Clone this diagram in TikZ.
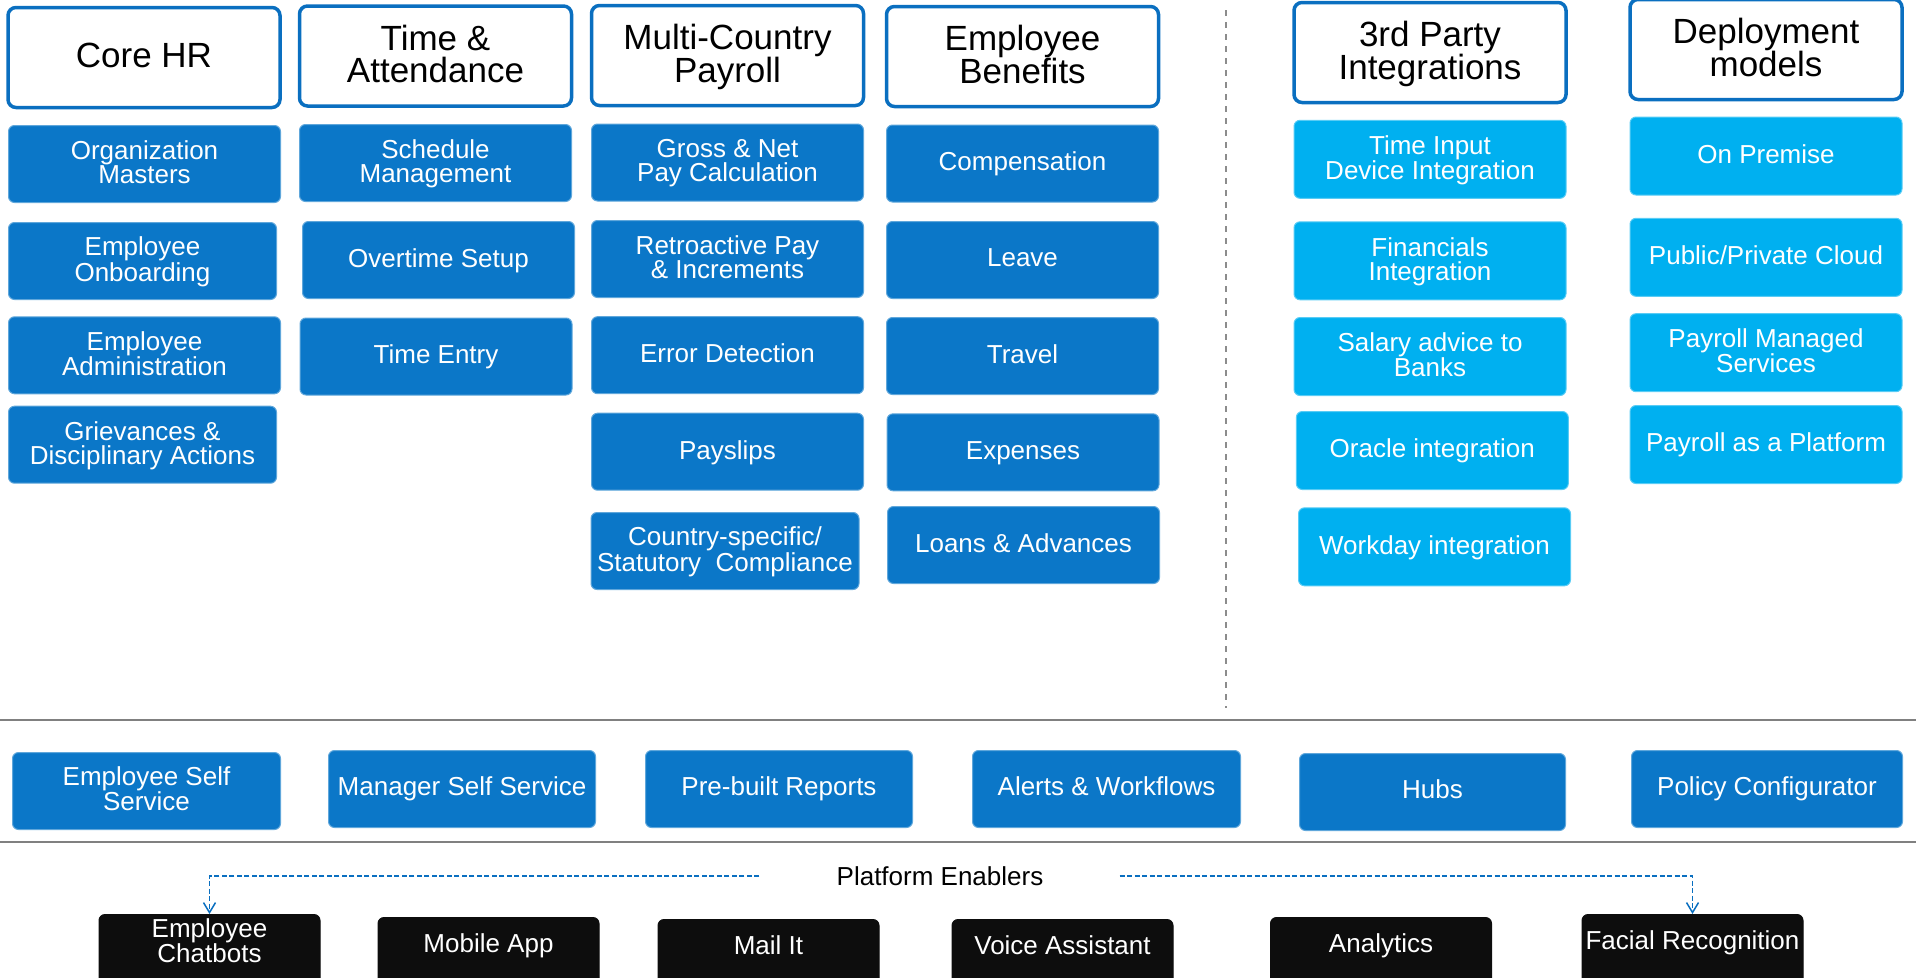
\documentclass[tikz,border=0pt]{standalone}
\usepackage{fontspec}
\setmainfont{Liberation Sans}
\usetikzlibrary{arrows.meta}
\definecolor{hrblue}{HTML}{0B77C8}
\definecolor{hrline}{HTML}{0A6FC0}
\definecolor{hrcyan}{HTML}{00B0F0}
\definecolor{hrblack}{HTML}{0D0D0D}
\tikzset{
  head/.style={draw=hrline,line width=3.5pt,fill=white,rounded corners=8pt,
    minimum width=272pt,minimum height=100pt,inner sep=2pt,align=center,
    text depth=0.45em,font=\fontsize{35}{32}\selectfont},
  module/.style={fill=hrblue,draw=hrblue!65!white,line width=1pt,rounded corners=6pt,
    text=white,minimum width=272pt,minimum height=77pt,inner sep=2pt,align=center,
    text depth=0.4em,font=\fontsize{26}{24}\selectfont},
  addon/.style={module,fill=hrcyan,draw=hrcyan!65!white,minimum height=78pt},
  service/.style={module,text depth=0.55em},
  enabler/.style={module,fill=hrblack,draw=hrblack,minimum width=221pt,minimum height=72pt,
    text depth=20pt},
  link/.style={draw=hrline,line width=1.5pt,dash pattern=on 5pt off 2.5pt,
    -{Straight Barb[length=10pt,width=12pt]}},
  divider/.style={draw=black!50,line width=2.5pt}
}
\begin{document}
\begin{tikzpicture}[x=1pt,y=-1pt]
 \path[use as bounding box,clip] (0,0) rectangle (1916,977);
 % column headers
 \node[head] (core) at (144,57.5) {Core HR};
 \node[head] (time) at (435.5,56) {Time \&\\Attendance};
 \node[head] (payroll) at (727.5,55.5) {Multi-Country\\Payroll};
 \node[head] (benefits) at (1022.5,56.5) {Employee\\Benefits};
 \node[head] (third) at (1430,52.5) {3rd Party\\Integrations};
 \node[head] (deploy) at (1766,49.5) {Deployment\\models};
 % core hr
 \node[module] (om) at (144.5,164) {Organization\\Masters};
 \node[module,minimum width=268pt] (eo) at (142.5,261) {Employee\\Onboarding};
 \node[module] (ea) at (144.5,355.3) {Employee\\Administration};
 \node[module,minimum width=268pt] (gd) at (142.5,444.7) {Grievances \&\\Disciplinary Actions};
 % time & attendance
 \node[module] (sm) at (435.5,163) {Schedule\\Management};
 \node[module] (os) at (438.5,260) {Overtime Setup};
 \node[module] (te) at (436,356.5) {Time Entry};
 % payroll
 \node[module] (gn) at (727.5,162.5) {Gross \& Net\\Pay Calculation};
 \node[module] (rp) at (727.5,259) {Retroactive Pay\\\& Increments};
 \node[module] (ed) at (727.5,355.2) {Error Detection};
 \node[module] (ps) at (727.5,451.7) {Payslips};
 \node[module,minimum width=268pt] (cs) at (725,551) {Country-specific/\\Statutory\ \ Compliance};
 % benefits
 \node[module] (cp) at (1022.5,163.5) {Compensation};
 \node[module] (lv) at (1022.5,260) {Leave};
 \node[module] (tr) at (1022.5,356) {Travel};
 \node[module] (ex) at (1023,452.3) {Expenses};
 \node[module] (la) at (1023.5,545) {Loans \& Advances};
 % integrations
 \node[addon] (ti) at (1430,159.3) {Time Input\\Device Integration};
 \node[addon] (fi) at (1430,260.8) {Financials\\Integration};
 \node[addon] (sa) at (1430,356.5) {Salary advice to\\Banks};
 \node[addon] (oi) at (1432.3,450.5) {Oracle integration};
 \node[addon] (wi) at (1434.5,546.8) {Workday integration};
 % deployment
 \node[addon] (opm) at (1766,156) {On Premise};
 \node[addon] (pc) at (1766,257.3) {Public/Private Cloud};
 \node[addon] (pm) at (1766,352.7) {Payroll Managed\\Services};
 \node[addon] (pp) at (1766,444.5) {Payroll as a Platform};
 % separators
 \draw[draw=black!45,line width=2pt,dash pattern=on 6pt off 6pt] (1226,10) -- (1226,708);
 \draw[divider] (0,720) -- (1916,720);
 \draw[divider] (0,842) -- (1916,842);
 % services row
 \foreach \x/\t/\w/\nm/\txt in {12/752/268/ess/{Employee Self\\Service},
   328/750/267/mss/Manager Self Service, 645/750/267/pbr/Pre-built Reports,
   972/750/268/aw/Alerts \& Workflows, 1299/753/266/hubs/Hubs,
   1631/750/271/pcf/Policy Configurator}
  \node[service,anchor=north west,minimum width=\w pt] (\nm) at (\x,\t) {\txt};
 % platform enablers
 \node[inner sep=0pt,font=\fontsize{26}{24}\selectfont] (pe) at (940,876) {Platform Enablers};
 \foreach \x/\t/\nm/\txt in {209.5/914/ec/{Employee\\Chatbots}, 488.5/917/ma/Mobile App,
   768.5/919/mi/Mail It, 1062.5/919/va/Voice Assistant, 1381/917/an/Analytics,
   1692.5/914/fr/Facial Recognition}
  \node[enabler,anchor=north] (\nm) at (\x,\t) {\txt};
 \coordinate (pe w) at ([xshift=-77pt]pe.west);
 \coordinate (pe e) at ([xshift=76pt]pe.east);
 \draw[link] (pe w) -| (ec.north);
 \draw[link] (pe e) -| (fr.north);
\end{tikzpicture}
\end{document}
